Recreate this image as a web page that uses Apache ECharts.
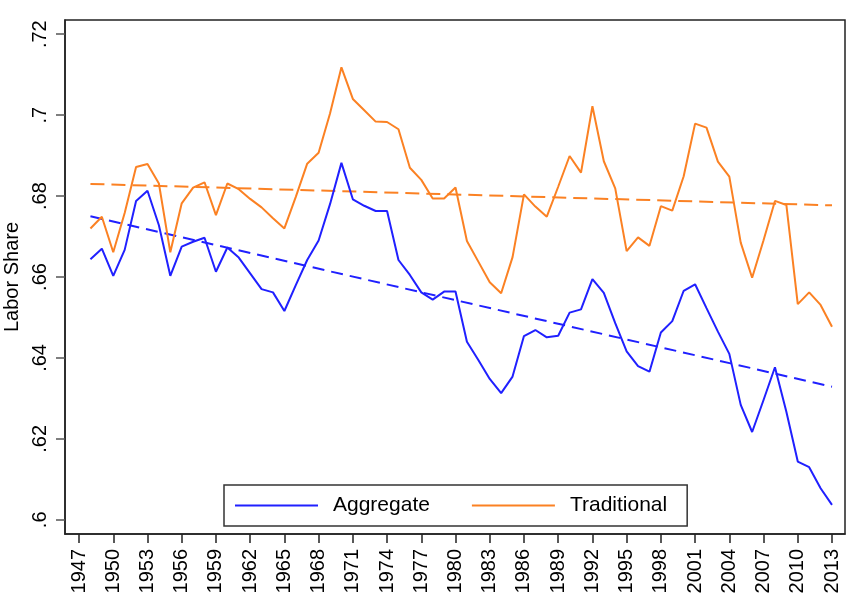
<!DOCTYPE html>
<html>
<head>
<meta charset="utf-8">
<script src="https://cdn.jsdelivr.net/npm/echarts@6/dist/echarts.min.js"></script>
<style>html,body{margin:0;padding:0;background:#fff;}#chart{width:866px;height:616px;}</style>
</head>
<body>
<div id="chart"></div>
<script>
const years = [1948,1949,1950,1951,1952,1953,1954,1955,1956,1957,1958,1959,1960,1961,1962,1963,1964,1965,1966,1967,1968,1969,1970,1971,1972,1973,1974,1975,1976,1977,1978,1979,1980,1981,1982,1983,1984,1985,1986,1987,1988,1989,1990,1991,1992,1993,1994,1995,1996,1997,1998,1999,2000,2001,2002,2003,2004,2005,2006,2007,2008,2009,2010,2011,2012,2013];
const aggregate = [0.6644,0.6670,0.6603,0.6667,0.6788,0.6813,0.6728,0.6603,0.6675,0.6687,0.6697,0.6613,0.6673,0.6648,0.6609,0.6570,0.6562,0.6516,0.6580,0.6642,0.6690,0.6780,0.6882,0.6792,0.6776,0.6763,0.6763,0.6642,0.6605,0.6562,0.6544,0.6564,0.6564,0.6440,0.6395,0.6348,0.6313,0.6354,0.6454,0.6469,0.6451,0.6455,0.6512,0.6520,0.6595,0.6561,0.6486,0.6416,0.6380,0.6366,0.6463,0.6491,0.6566,0.6582,0.6523,0.6465,0.6410,0.6284,0.6217,0.6296,0.6377,0.6267,0.6144,0.6130,0.6078,0.6037];
const traditional = [0.6720,0.6749,0.6661,0.6758,0.6872,0.6879,0.6831,0.6661,0.6782,0.6821,0.6834,0.6753,0.6831,0.6817,0.6793,0.6772,0.6745,0.6720,0.6798,0.6880,0.6907,0.7004,0.7118,0.7040,0.7012,0.6984,0.6983,0.6965,0.6870,0.6840,0.6794,0.6794,0.6821,0.6689,0.6638,0.6587,0.6560,0.6649,0.6804,0.6774,0.6749,0.6823,0.6899,0.6858,0.7022,0.6886,0.6819,0.6664,0.6698,0.6677,0.6775,0.6764,0.6849,0.6979,0.6969,0.6885,0.6848,0.6685,0.6598,0.6691,0.6788,0.6778,0.6533,0.6562,0.6531,0.6477];
const trendYears = [1948, 2013];
const aggregateTrend = [0.6750, 0.6329];
const traditionalTrend = [0.6830, 0.6777];
const xTicks = [1947,1950,1953,1956,1959,1962,1965,1968,1971,1974,1977,1980,1983,1986,1989,1992,1995,1998,2001,2004,2007,2010,2013];
const yTicks = [0.6,0.62,0.64,0.66,0.68,0.7,0.72];

const BLUE = '#2020ff', ORANGE = '#fb8123';
const FONT = '"Liberation Sans", Arial, sans-serif';
const pair = (xs, ys) => xs.map((x, i) => [x, ys[i]]);

const chart = echarts.init(document.getElementById('chart'), null, {renderer: 'canvas'});
chart.setOption({
  animation: false,
  backgroundColor: '#fff',
  textStyle: {fontFamily: FONT},
  grid: {left: 65, right: 21, top: 20, bottom: 82, containLabel: false, outerBoundsMode: 'none',
    show: true, borderColor: '#222', borderWidth: 1.5, backgroundColor: 'transparent'},
  legend: {
    left: 224, top: 485,
    data: ['Aggregate', 'Traditional'],
    icon: 'rect',
    padding: [9, 20, 9, 11],
    itemWidth: 83, itemHeight: 2, itemGap: 42,
    borderColor: '#333', borderWidth: 1.5,
    textStyle: {fontSize: 21, color: '#000', fontFamily: FONT, lineHeight: 23, padding: [0, 0, 0, 10]}
  },
  xAxis: {
    type: 'value', min: 1945.77, max: 2014.14,
    splitLine: {show: false},
    axisLine: {show: true, lineStyle: {color: '#222', width: 1.5}},
    axisTick: {show: true, length: 9, lineStyle: {color: '#222', width: 1.5}, customValues: xTicks},
    axisLabel: {customValues: xTicks, rotate: 90, fontSize: 20, color: '#000', margin: 15, fontFamily: FONT, formatter: v => String(v)}
  },
  yAxis: {
    type: 'value', min: 0.5965, max: 0.7235,
    name: 'Labor Share', nameLocation: 'middle', nameGap: 40, nameRotate: 90,
    nameTextStyle: {fontSize: 20, color: '#000', fontFamily: FONT},
    splitLine: {show: false},
    axisLine: {show: true, lineStyle: {color: '#222', width: 1.5}},
    axisTick: {show: true, length: 9, lineStyle: {color: '#555', width: 1.5}, customValues: yTicks},
    axisLabel: {customValues: yTicks, rotate: 90, fontSize: 20, color: '#000', margin: 15, fontFamily: FONT,
      formatter: v => String(+v.toFixed(2)).replace(/^0/, '')}
  },
  series: [
    {name: 'Aggregate trend', type: 'line', data: pair(trendYears, aggregateTrend), symbol: 'none', silent: true,
      lineStyle: {color: BLUE, width: 2, type: [12, 7]}},
    {name: 'Traditional trend', type: 'line', data: pair(trendYears, traditionalTrend), symbol: 'none', silent: true,
      lineStyle: {color: ORANGE, width: 2, type: [14, 7]}},
    {name: 'Aggregate', type: 'line', data: pair(years, aggregate), symbol: 'none', color: BLUE,
      itemStyle: {color: BLUE}, lineStyle: {color: BLUE, width: 2}},
    {name: 'Traditional', type: 'line', data: pair(years, traditional), symbol: 'none', color: ORANGE,
      itemStyle: {color: ORANGE}, lineStyle: {color: ORANGE, width: 2}}
  ]
});
</script>
</body>
</html>
